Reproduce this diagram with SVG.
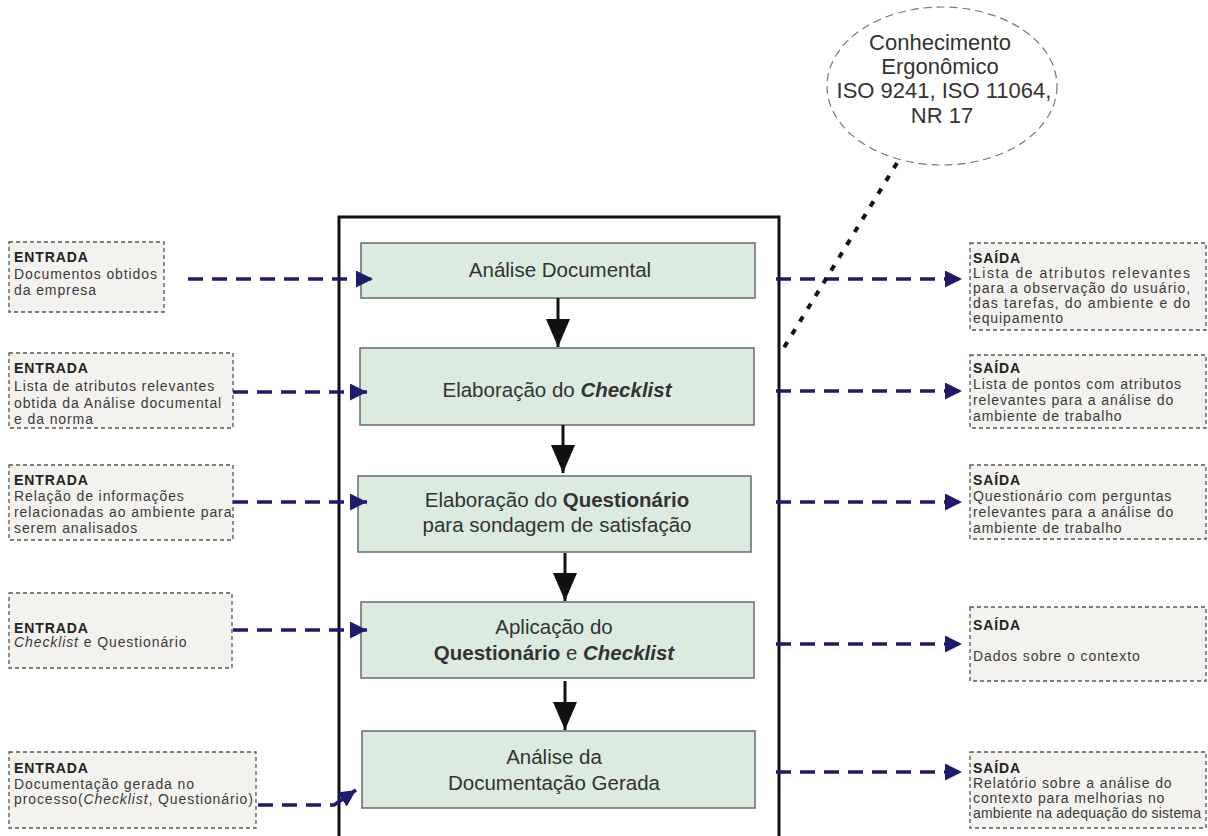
<svg xmlns="http://www.w3.org/2000/svg" width="1208" height="836" viewBox="0 0 1208 836">
<style>
.bg{fill:#ffffff}
.proc{fill:#dcebe0;stroke:#6a6a6a;stroke-width:1.5}
.side{fill:#f4f2ef;stroke:#555;stroke-width:1.3;stroke-dasharray:4 3}
.pt{font-family:"Liberation Sans",Arial,sans-serif;font-size:20.5px;fill:#333;text-anchor:middle}
.st{font-family:"Liberation Sans",Arial,sans-serif;font-size:14px;fill:#3a3a3a;letter-spacing:0.9px}
.tight{letter-spacing:0.2px}
.hd{font-weight:bold;fill:#222}
.nav{fill:none;stroke:#1e1b6e;stroke-width:3.5;stroke-dasharray:15 9}
.down{fill:none;stroke:#111;stroke-width:3}
.et{font-family:"Liberation Sans",Arial,sans-serif;font-size:22px;fill:#333;text-anchor:middle}
</style>
<defs>
<marker id="mNav" viewBox="0 0 17 17" markerWidth="17" markerHeight="17" refX="17" refY="8.5" orient="auto" markerUnits="userSpaceOnUse">
<path d="M0,0 L17,8.5 L0,17 z" fill="#1e1b6e"/>
</marker>
<marker id="mDown" viewBox="0 0 28 24" markerWidth="28" markerHeight="24" refX="28" refY="12" orient="auto" markerUnits="userSpaceOnUse">
<path d="M0,0 L28,12 L0,24 z" fill="#111"/>
</marker>
</defs>
<rect class="bg" x="0" y="0" width="1208" height="836"/>

<g id="knowledge">
<ellipse cx="942" cy="86" rx="115" ry="79" fill="none" stroke="#777" stroke-width="1.2" stroke-dasharray="8 5"/>
<text class="et" x="940" y="50">Conhecimento</text>
<text class="et" x="940" y="74">Ergonômico</text>
<text class="et" x="944" y="98">ISO 9241, ISO 11064,</text>
<text class="et" x="942" y="123">NR 17</text>
</g>

<g id="container">
<rect x="339" y="217" width="440" height="640" fill="none" stroke="#111" stroke-width="3"/>
</g>

<g id="p1">
<rect class="proc" x="361" y="243" width="394" height="55"/>
<text class="pt" x="560" y="277">Análise Documental</text>
</g>
<g id="p2">
<rect class="proc" x="360" y="348" width="394" height="77"/>
<text class="pt" x="557" y="397">Elaboração do <tspan font-weight="bold" font-style="italic">Checklist</tspan></text>
</g>
<g id="p3">
<rect class="proc" x="358" y="476" width="393" height="76"/>
<text class="pt" x="557" y="507">Elaboração do <tspan font-weight="bold">Questionário</tspan></text>
<text class="pt" x="557" y="532">para sondagem de satisfação</text>
</g>
<g id="p4">
<rect class="proc" x="361" y="602" width="393" height="76"/>
<text class="pt" x="554" y="634">Aplicação do</text>
<text class="pt" x="554" y="660"><tspan font-weight="bold">Questionário</tspan> e <tspan font-weight="bold" font-style="italic">Checklist</tspan></text>
</g>
<g id="p5">
<rect class="proc" x="362" y="731" width="393" height="77"/>
<text class="pt" x="554" y="764">Análise da</text>
<text class="pt" x="554" y="790">Documentação Gerada</text>
</g>

<g id="e1">
<rect class="side" x="9" y="242" width="155" height="70"/>
<text class="st hd" x="14" y="262">ENTRADA</text>
<text class="st" x="14" y="279">Documentos obtidos</text>
<text class="st" x="14" y="295">da empresa</text>
</g>
<g id="e2">
<rect class="side" x="9" y="353" width="224" height="75"/>
<text class="st hd" x="14" y="373">ENTRADA</text>
<text class="st" x="14" y="391">Lista de atributos relevantes</text>
<text class="st" x="14" y="408">obtida da Análise documental</text>
<text class="st" x="14" y="424">e da norma</text>
</g>
<g id="e3">
<rect class="side" x="9" y="465" width="224" height="75"/>
<text class="st hd" x="14" y="485">ENTRADA</text>
<text class="st" x="14" y="501">Relação de informações</text>
<text class="st" x="14" y="517">relacionadas ao ambiente para</text>
<text class="st" x="14" y="533">serem analisados</text>
</g>
<g id="e4">
<rect class="side" x="9" y="593" width="223" height="75"/>
<text class="st hd" x="14" y="633">ENTRADA</text>
<text class="st" x="14" y="647"><tspan font-style="italic">Checklist</tspan> e Questionário</text>
</g>
<g id="e5">
<rect class="side" x="9" y="752" width="247" height="76"/>
<text class="st hd" x="14" y="773">ENTRADA</text>
<text class="st" x="14" y="789">Documentação gerada no</text>
<text class="st" x="14" y="804">processo(<tspan font-style="italic">Checklist</tspan>, Questionário)</text>
</g>

<g id="s1">
<rect class="side" x="970" y="243" width="236" height="87"/>
<text class="st hd" x="973" y="263">SAÍDA</text>
<text class="st" x="973" y="278" textLength="218" lengthAdjust="spacing">Lista de atributos relevantes</text>
<text class="st" x="973" y="293" textLength="218" lengthAdjust="spacing">para a observação do usuário,</text>
<text class="st" x="973" y="308" textLength="218" lengthAdjust="spacing">das tarefas, do ambiente e do</text>
<text class="st" x="973" y="323">equipamento</text>
</g>
<g id="s2">
<rect class="side" x="970" y="355" width="236" height="73"/>
<text class="st hd" x="973" y="373">SAÍDA</text>
<text class="st" x="973" y="389">Lista de pontos com atributos</text>
<text class="st" x="973" y="405">relevantes para a análise do</text>
<text class="st" x="973" y="421">ambiente de trabalho</text>
</g>
<g id="s3">
<rect class="side" x="970" y="465" width="236" height="74"/>
<text class="st hd" x="973" y="485">SAÍDA</text>
<text class="st" x="973" y="501">Questionário com perguntas</text>
<text class="st" x="973" y="517">relevantes para a análise do</text>
<text class="st" x="973" y="533">ambiente de trabalho</text>
</g>
<g id="s4">
<rect class="side" x="970" y="607" width="236" height="74"/>
<text class="st hd" x="973" y="630">SAÍDA</text>
<text class="st" x="973" y="661">Dados sobre o contexto</text>
</g>
<g id="s5">
<rect class="side" x="970" y="752" width="236" height="76"/>
<text class="st hd" x="973" y="773">SAÍDA</text>
<text class="st" x="973" y="788">Relatório sobre a análise do</text>
<text class="st" x="973" y="803">contexto para melhorias no</text>
<text class="st tight" x="973" y="818">ambiente na adequação do sistema</text>
</g>

<g id="connectors">
<line class="down" x1="558" y1="298" x2="558" y2="347" marker-end="url(#mDown)"/>
<line class="down" x1="563" y1="425" x2="563" y2="473" marker-end="url(#mDown)"/>
<line class="down" x1="565" y1="553" x2="565" y2="601" marker-end="url(#mDown)"/>
<line class="down" x1="565" y1="681" x2="565" y2="730" marker-end="url(#mDown)"/>

<path class="nav" d="M188,279 L373,279" marker-end="url(#mNav)"/>
<path class="nav" d="M233,392 L367,392" marker-end="url(#mNav)"/>
<path class="nav" d="M233,502 L367,502" marker-end="url(#mNav)"/>
<path class="nav" d="M233,630 L367,630" marker-end="url(#mNav)"/>
<path class="nav" d="M258,805 L334,805 L356,790" marker-end="url(#mNav)"/>

<path class="nav" d="M776,279 L962,279" marker-end="url(#mNav)"/>
<path class="nav" d="M776,391 L962,391" marker-end="url(#mNav)"/>
<path class="nav" d="M776,502 L962,502" marker-end="url(#mNav)"/>
<path class="nav" d="M776,644 L962,644" marker-end="url(#mNav)"/>
<path class="nav" d="M776,772 L962,772" marker-end="url(#mNav)"/>

<line x1="897" y1="163" x2="780" y2="354" stroke="#111" stroke-width="4" stroke-dasharray="6 9"/>
</g>
</svg>
